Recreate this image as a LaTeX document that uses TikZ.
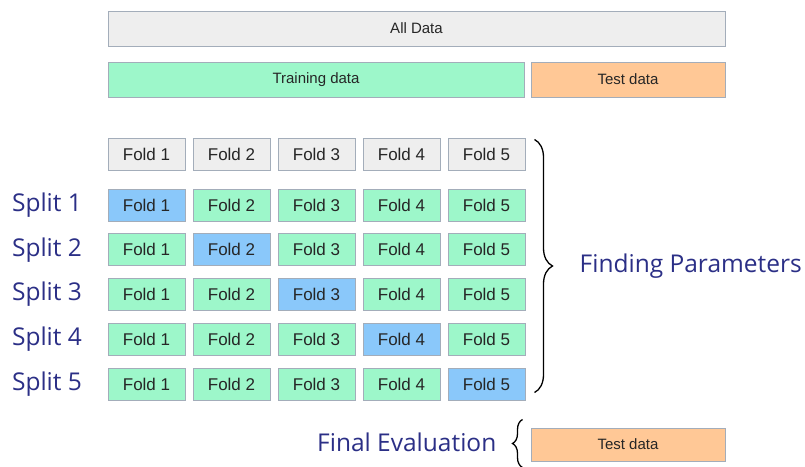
\documentclass[tikz,border=0pt]{standalone}
\usepackage{fontspec}
\setmainfont{Liberation Sans}
\newfontfamily\labelfont{Open Sans}
\usetikzlibrary{decorations.pathreplacing, positioning, calc}
\definecolor{boxgray}{HTML}{EEEEEE}
\definecolor{boxgreen}{HTML}{9DF7CA}
\definecolor{boxblue}{HTML}{8AC8FA}
\definecolor{boxorange}{HTML}{FFC896}
\definecolor{boxline}{HTML}{A3ADBA}
\definecolor{labelblue}{HTML}{2B2F86}

\begin{document}
\begin{tikzpicture}[ x = 1pt, y = 1pt
                     , font = \fontsize{15}{18}\selectfont
                     , box/.style = { rectangle
                                    , draw = boxline
                                    , line width = 1pt
                                    , minimum height = 35pt
                                    , inner sep = 0pt
                                    , text = black!85 }
                     , fold/.style = { box
                                     , minimum width = 77pt
                                     , minimum height = 32pt
                                     , font = \fontsize{17}{20}\selectfont }
                     , splitlabel/.style = { font = \labelfont\fontsize{24.5}{29}\selectfont
                                           , text = labelblue
                                           , inner sep = 0pt }
                     , brace/.style = { decorate
                                      , decoration = {brace, amplitude = 18pt}
                                      , line width = 1.3pt }
                     ]
  \useasboundingbox (0,0) rectangle (805,-466);

  \node (alldata) [box, fill = boxgray, minimum width = 617pt] at (416.5,-28.5) {All Data};
  \node (train) [box, fill = boxgreen, minimum width = 416pt] at (316,-79.5) {Training data};
  \node (test) [box, fill = boxorange, minimum width = 194pt] at (628,-79.5) {Test data};

  % header row of folds
  \foreach \i in {1,...,5} {
    \node (head-\i) [fold, fill = boxgray] at ({61.5+85*\i},-154) {Fold \i};
  }

  % one row per split, the held-out fold in blue
  \foreach \j in {1,...,5} {
    \node (split-\j) [splitlabel] at (47,{-160.25-44.75*\j}) {Split \j};
    \foreach \i in {1,...,5} {
      \ifnum\i=\j \def\foldfill{boxblue}\else \def\foldfill{boxgreen}\fi
      \node (fold-\j-\i) [fold, fill = \foldfill] at ({61.5+85*\i},{-160.25-44.75*\j}) {Fold \i};
    }
  }

  \draw[brace] ($(head-5.north east)+(9pt,-2pt)$) -- ($(fold-5-5.south east)+(9pt,8pt)$)
  coordinate[midway] (tip);
  \node (finding) [splitlabel, anchor = west] at ($(tip)+(45pt,0)$) {Finding Parameters};

  \node (finaltest) [box, fill = boxorange, minimum width = 194pt, minimum height = 33pt] at (628,-444.5) {Test data};
  \draw[brace, decoration = {amplitude = 10pt}] ($(finaltest.south west)+(-8pt,-6pt)$) -- ($(finaltest.north west)+(-8pt,8pt)$);
  \node (final) [splitlabel, anchor = east] at ($(finaltest.west)+(-34pt,2pt)$) {Final Evaluation};

\end{tikzpicture}
\end{document}
